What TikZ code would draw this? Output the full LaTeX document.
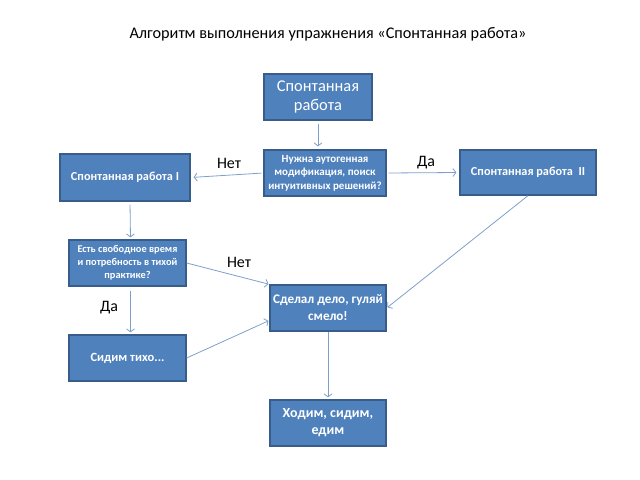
\documentclass[tikz,border=0pt]{standalone}
\usepackage{fontspec}
\setmainfont{Carlito}
\usetikzlibrary{arrows.meta}
\definecolor{blokfill}{HTML}{4F81BD}
\definecolor{blokdraw}{HTML}{385D8A}
\definecolor{strelka}{HTML}{7F9FCB}
\tikzset{
  blok/.style={draw=blokdraw, line width=1.3bp, fill=blokfill, text=white, align=center, inner sep=2bp},
  strel/.style={draw=strelka, line width=0.8bp, -{Straight Barb[length=3bp,width=8bp]}},
  metka/.style={font=\fontsize{16}{18}\selectfont}
}
\begin{document}
\begin{tikzpicture}[x=1bp,y=-1bp]
\useasboundingbox (0,0) rectangle (640,480);
% заголовок
\node[font=\fontsize{16.3}{19}\selectfont] (zag) at (328,34) {Алгоритм выполнения упражнения «Спонтанная работа»};
% блоки
\node[blok, minimum width=108bp, minimum height=46bp, font=\fontsize{16.5}{19}\selectfont] (spont) at (318,97) {Спонтанная\\работа};
\node[blok, minimum width=122bp, minimum height=46bp, font=\bfseries\fontsize{11}{13.5}\selectfont] (vopros) at (325,173) {Нужна аутогенная\\модификация, поиск\\интуитивных решений?};
\node[blok, minimum width=130bp, minimum height=47bp, font=\bfseries\fontsize{12.3}{14}\selectfont] (spontI) at (125,177.5) {Спонтанная работа I};
\node[blok, minimum width=136bp, minimum height=45bp, font=\bfseries\fontsize{12.3}{14}\selectfont] (spontII) at (528,172.5) {Спонтанная работа~~II};
\node[blok, minimum width=117bp, minimum height=46bp, font=\bfseries\fontsize{10.4}{13}\selectfont] (svob) at (127.5,263) {Есть свободное время\\и потребность в тихой\\практике?};
\node[blok, minimum width=116bp, minimum height=46bp, font=\bfseries\fontsize{13.2}{17}\selectfont, inner sep=1.5bp] (sdelal) at (328,308) {Сделал дело, гуляй\\смело!};
\node[blok, minimum width=117bp, minimum height=46bp, font=\bfseries\fontsize{12.6}{15}\selectfont] (sidim) at (127.5,358) {Сидим тихо...};
\node[blok, minimum width=116bp, minimum height=46bp, font=\bfseries\fontsize{14}{17}\selectfont] (hodim) at (328,423) {Ходим, сидим,\\едим};
% стрелки
\draw[strel, shorten <=3bp, shorten >=3bp] (spont.south) -- (spont.south |- vopros.north);
\draw[strel, shorten <=2bp, shorten >=3bp] (vopros.west) -- (spontI.east);
\draw[strel, shorten <=2bp, shorten >=3bp] (vopros.east) -- (spontII.west);
\draw[strel, shorten <=3bp, shorten >=2bp] ([xshift=5bp]spontI.south) -- ([xshift=3bp]svob.north);
\draw[strel, shorten <=4bp, shorten >=2bp] ([xshift=3bp]svob.south) -- ([xshift=3bp]sidim.north);
\draw[strel, shorten >=1bp] (svob.east) -- (sdelal.158);
\draw[strel, shorten >=1bp] (sidim.east) -- (sdelal.192);
\draw[strel, shorten >=1bp] (spontII.south) -- (sdelal.east);
\draw[strel, shorten >=2bp] (sdelal.south) -- (hodim.north);
% подписи
\node[metka] (net1) at (229,163) {Нет};
\node[metka] (da1) at (426,163) {Да};
\node[metka] (net2) at (239,262) {Нет};
\node[metka] (da2) at (109,308) {Да};
\end{tikzpicture}
\end{document}
